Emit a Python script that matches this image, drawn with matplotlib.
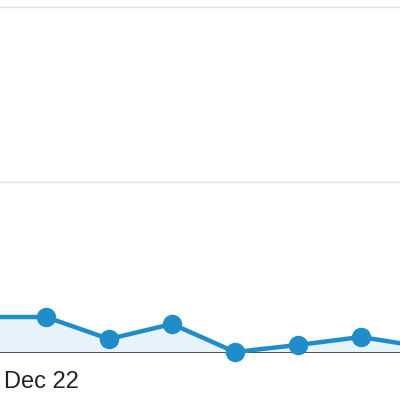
import matplotlib
matplotlib.use("Agg")
import matplotlib.pyplot as plt

x_idx = [-1, 0, 1, 2, 3, 4, 5, 6]
values = [36, 36, 14, 29, 1, 8, 16, 6]
grid_vals = [171, 346]
label = "Dec 22"

fig = plt.figure(figsize=(4, 4), dpi=100)
ax = fig.add_axes([0, 47/400, 1, 1 - 47/400])
ax.set_xlim(-46/63, (400-46)/63)
ax.set_ylim(0, 353)
for g in grid_vals:
    ax.axhline(g, color="#e3e3e3", lw=1, zorder=0)
ax.fill_between(x_idx, values, 0, color="#e6f3fa", zorder=1)
ax.axhline(0, color="#333333", lw=1.2, zorder=2)
ax.plot(x_idx, values, color="#1f8dc7", lw=3.2, marker="o", ms=13, zorder=3, clip_on=False)
ax.axis("off")
fig.text(4/400, 1 - 382/400, label, fontsize=17, color="#222222", va="center", ha="left", family="Liberation Sans")
fig.savefig("out.png", dpi=100)
